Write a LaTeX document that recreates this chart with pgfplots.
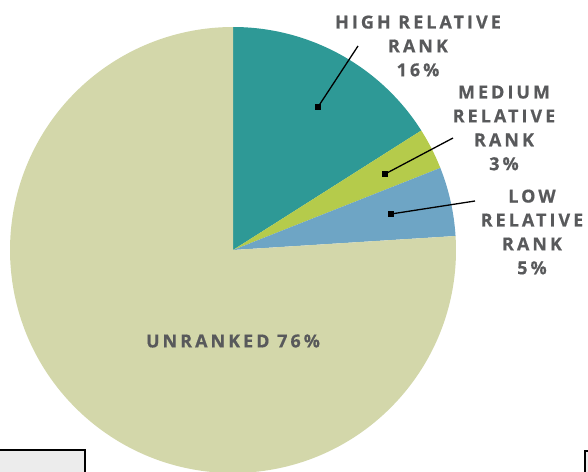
\documentclass[border=0pt]{standalone}
\usepackage{fontspec}
\usepackage{pgfplots}
\usepackage{pgfplotstable}
\pgfplotsset{compat=1.18}
\setmainfont{Open Sans}
\newfontfamily\lab[LetterSpace=17, UprightFont={Open Sans Bold}, BoldFont={Open Sans Bold}, FakeBold=0.6]{Open Sans}
\definecolor{cHigh}{HTML}{2E9996}
\definecolor{cMed}{HTML}{B5CB4B}
\definecolor{cLow}{HTML}{6EA5C5}
\definecolor{cUnr}{HTML}{D3D7AA}
\definecolor{cText}{HTML}{58595B}
\pgfplotstableread{
label value
High 16
Medium 3
Low 5
Unranked 76
}\piedata
\pgfplotstablegetelem{0}{value}\of\piedata \let\vA\pgfplotsretval
\pgfplotstablegetelem{1}{value}\of\piedata \let\vB\pgfplotsretval
\pgfplotstablegetelem{2}{value}\of\piedata \let\vC\pgfplotsretval
\pgfplotstablegetelem{3}{value}\of\piedata \let\vD\pgfplotsretval
\pgfmathsetmacro\aA{90}
\pgfmathsetmacro\aB{\aA-3.6*\vA}
\pgfmathsetmacro\aC{\aB-3.6*\vB}
\pgfmathsetmacro\aD{\aC-3.6*\vC}
\pgfmathsetmacro\aE{\aD-3.6*\vD}
\tikzset{lbl/.style={align=center, text=cText, font=\lab\fontsize{18}{24}\selectfont}}
\begin{document}
\begin{tikzpicture}
\begin{axis}[
  scale only axis, width=588bp, height=472bp,
  xmin=0, xmax=588, ymin=0, ymax=472, y dir=reverse,
  hide axis, clip=true,
]
\fill[cHigh] (axis cs:233,250) -- ++(\aA:223bp) arc[start angle=\aA, end angle=\aB, radius=223bp] -- cycle;
\fill[cMed] (axis cs:233,250) -- ++(\aB:223bp) arc[start angle=\aB, end angle=\aC, radius=223bp] -- cycle;
\fill[cLow] (axis cs:233,250) -- ++(\aC:223bp) arc[start angle=\aC, end angle=\aD, radius=223bp] -- cycle;
\fill[cUnr] (axis cs:233,250) -- ++(\aD:223bp) arc[start angle=\aD, end angle=\aE, radius=223bp] -- cycle;
\addplot[black, line width=1.3bp, mark=square*, mark size=2.4bp, mark indices={2}] coordinates {(358,46) (318,107)};
\addplot[black, line width=1.3bp, mark=square*, mark size=2.4bp, mark indices={2}] coordinates {(453,138) (385,174)};
\addplot[black, line width=1.3bp, mark=square*, mark size=2.4bp, mark indices={2}] coordinates {(475,201) (391,214)};
\node[lbl] at (axis cs:418,46) {HIGH RELATIVE\\RANK\\16\%};
\node[lbl] at (axis cs:504,128) {MEDIUM\\RELATIVE\\RANK\\3\%};
\node[lbl] at (axis cs:532,232) {LOW\\RELATIVE\\RANK\\5\%};
\node[lbl] at (axis cs:233,341) {UNRANKED 76\%};
\draw[fill=gray!15, line width=1.5bp] (axis cs:-5,450) rectangle (axis cs:85,490);
\draw[fill=gray!15, line width=1.5bp] (axis cs:585,451) rectangle (axis cs:600,490);
\end{axis}
\pgfresetboundingbox
\path[use as bounding box] (current axis.south west) rectangle (current axis.north east);
\end{tikzpicture}
\end{document}
